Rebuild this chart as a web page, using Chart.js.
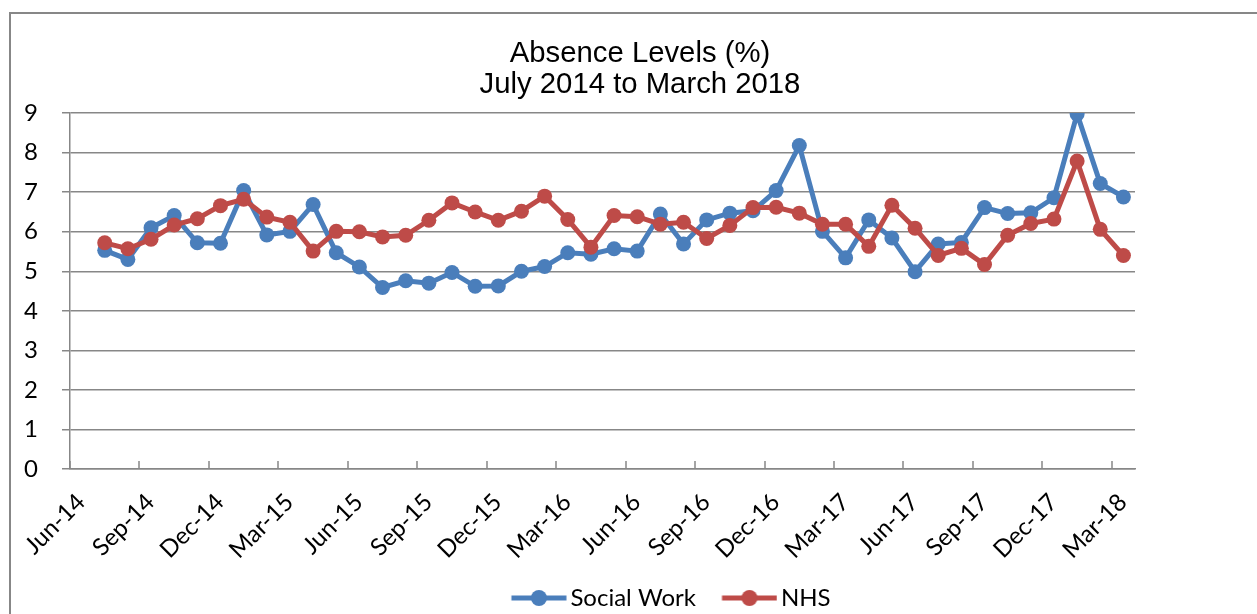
<!DOCTYPE html>
<html>
<head>
    <title>Absence Levels</title>
    <script src="https://cdn.jsdelivr.net/npm/chart.js"></script>
    <style>
        body {
            margin: 0;
            background: #fff;
            overflow: hidden;
        }
        .frame {
            position: absolute;
            left: 9px;
            top: 12px;
            border: 2px solid #878787;
        }
        canvas { display: block; }
    </style>
</head>
<body>
    <div class="frame">
        <canvas id="absenceChart" width="1258" height="640"></canvas>
    </div>

    <script>
        // monthly figures, Jul-14 to Mar-18
        const months = [
            'Jul-14', 'Aug-14', 'Sep-14', 'Oct-14', 'Nov-14', 'Dec-14',
            'Jan-15', 'Feb-15', 'Mar-15', 'Apr-15', 'May-15', 'Jun-15',
            'Jul-15', 'Aug-15', 'Sep-15', 'Oct-15', 'Nov-15', 'Dec-15',
            'Jan-16', 'Feb-16', 'Mar-16', 'Apr-16', 'May-16', 'Jun-16',
            'Jul-16', 'Aug-16', 'Sep-16', 'Oct-16', 'Nov-16', 'Dec-16',
            'Jan-17', 'Feb-17', 'Mar-17', 'Apr-17', 'May-17', 'Jun-17',
            'Jul-17', 'Aug-17', 'Sep-17', 'Oct-17', 'Nov-17', 'Dec-17',
            'Jan-18', 'Feb-18', 'Mar-18'
        ];
        const socialWork = [
            5.53, 5.30, 6.10, 6.41, 5.72, 5.71, 7.04, 5.92, 6.01, 6.69,
            5.47, 5.11, 4.59, 4.76, 4.70, 4.97, 4.62, 4.63, 5.00, 5.12,
            5.47, 5.43, 5.57, 5.51, 6.45, 5.69, 6.30, 6.47, 6.53, 7.04,
            8.18, 6.01, 5.34, 6.30, 5.84, 4.99, 5.69, 5.73, 6.61, 6.46,
            6.48, 6.86, 8.98, 7.22, 6.88
        ];
        const nhs = [
            5.72, 5.57, 5.81, 6.17, 6.33, 6.66, 6.82, 6.37, 6.24, 5.51,
            6.01, 6.00, 5.87, 5.91, 6.29, 6.73, 6.50, 6.29, 6.52, 6.90,
            6.31, 5.61, 6.41, 6.38, 6.19, 6.24, 5.83, 6.16, 6.61, 6.62,
            6.47, 6.19, 6.19, 5.63, 6.67, 6.09, 5.40, 5.58, 5.17, 5.91,
            6.21, 6.32, 7.79, 6.06, 5.40
        ];
        const tickLabels = [
            'Jun-14', 'Sep-14', 'Dec-14', 'Mar-15', 'Jun-15', 'Sep-15',
            'Dec-15', 'Mar-16', 'Jun-16', 'Sep-16', 'Dec-16', 'Mar-17',
            'Jun-17', 'Sep-17', 'Dec-17', 'Mar-18'
        ];

        const monthNames = ['Jan', 'Feb', 'Mar', 'Apr', 'May', 'Jun', 'Jul', 'Aug', 'Sep', 'Oct', 'Nov', 'Dec'];
        // months since the start of Jun-14, plotted mid-month like the Excel date axis
        function monthPos(label) {
            const [m, y] = label.split('-');
            return (Number(y) - 14) * 12 + monthNames.indexOf(m) - 5 + 0.5;
        }

        const blue = '#4a7ebb';
        const red = '#be4b48';
        const gridColor = '#878787';
        const tickFont = { family: 'Lato', size: 24 };

        // line + marker swatch; the transparent margins set the gaps around it
        function legendSwatch(color) {
            const c = document.createElement('canvas');
            c.width = 80;
            c.height = 18;
            const g = c.getContext('2d');
            g.strokeStyle = color;
            g.lineWidth = 5;
            g.beginPath();
            g.moveTo(24.5, 9);
            g.lineTo(79.5, 9);
            g.stroke();
            g.fillStyle = color;
            g.beginPath();
            g.arc(52, 9, 8, 0, Math.PI * 2);
            g.fill();
            return c;
        }

        // Excel style tick marks pointing up into the plot
        const xTickMarks = {
            id: 'xTickMarks',
            beforeDatasetsDraw(chart) {
                const x = chart.scales.x;
                const bottom = chart.chartArea.bottom;
                const ctx = chart.ctx;
                ctx.save();
                ctx.strokeStyle = gridColor;
                ctx.lineWidth = 1.5;
                x.ticks.forEach(t => {
                    const px = Math.round(x.getPixelForValue(t.value));
                    ctx.beginPath();
                    ctx.moveTo(px, bottom);
                    ctx.lineTo(px, bottom - 8);
                    ctx.stroke();
                });
                ctx.restore();
            }
        };

        // legend in the original sits a bit right of centre
        const legendShift = {
            id: 'legendShift',
            afterLayout(chart) {
                chart.legend.left += 23;
                chart.legend.right += 23;
            }
        };

        Chart.defaults.color = '#000';

        const ctx = document.getElementById('absenceChart').getContext('2d');
        new Chart(ctx, {
            type: 'line',
            data: {
                datasets: [
                    {
                        label: 'Social Work',
                        data: months.map((m, i) => ({ x: monthPos(m), y: socialWork[i] })),
                        borderColor: blue,
                        backgroundColor: blue,
                        pointBackgroundColor: blue,
                        borderWidth: 5,
                        pointRadius: 7.5,
                        pointBorderWidth: 0,
                        order: 1
                    },
                    {
                        label: 'NHS',
                        data: months.map((m, i) => ({ x: monthPos(m), y: nhs[i] })),
                        borderColor: red,
                        backgroundColor: red,
                        pointBackgroundColor: red,
                        borderWidth: 5,
                        pointRadius: 7.5,
                        pointBorderWidth: 0,
                        order: 0
                    }
                ]
            },
            options: {
                responsive: false,
                animation: false,
                devicePixelRatio: 1,
                layout: { padding: { top: 0, left: 0, right: 0, bottom: 34 } },
                scales: {
                    x: {
                        type: 'linear',
                        min: 0,
                        max: 46,
                        afterFit: s => {
                            s.height = 107;
                            s.paddingLeft = 0;
                            s.paddingRight = 0;
                        },
                        grid: { display: true, drawOnChartArea: false, drawTicks: false },
                        border: { color: gridColor, width: 1.5 },
                        ticks: {
                            stepSize: 3,
                            includeBounds: false,
                            autoSkip: false,
                            minRotation: 45,
                            maxRotation: 45,
                            padding: 19,
                            labelOffset: 11,
                            font: tickFont,
                            callback: v => tickLabels[v / 3]
                        }
                    },
                    y: {
                        min: 0,
                        max: 9,
                        afterFit: s => { s.width = 59; },
                        grid: { color: gridColor, lineWidth: 1.5, tickLength: 8 },
                        border: { color: gridColor, width: 1.5 },
                        ticks: { stepSize: 1, padding: 24, font: tickFont }
                    },
                    pad: {
                        position: 'right',
                        display: true,
                        afterFit: s => { s.width = 134; },
                        grid: { display: false },
                        border: { display: false },
                        ticks: { display: false }
                    }
                },
                plugins: {
                    title: {
                        display: true,
                        text: ['Absence Levels (%)', 'July 2014 to March 2018'],
                        font: { family: 'Liberation Sans', size: 29.3, weight: 'normal', lineHeight: 1.06 },
                        padding: { top: 24, bottom: 13 }
                    },
                    legend: {
                        position: 'bottom',
                        labels: {
                            usePointStyle: true,
                            pointStyleWidth: 63,
                            padding: 10,
                            font: tickFont,
                            generateLabels: chart => {
                                const items = Chart.defaults.plugins.legend.labels.generateLabels(chart);
                                items.sort((a, b) => a.datasetIndex - b.datasetIndex);
                                items.forEach(it => {
                                    it.pointStyle = legendSwatch(chart.data.datasets[it.datasetIndex].borderColor);
                                });
                                return items;
                            }
                        }
                    },
                    tooltip: { enabled: false }
                }
            },
            plugins: [xTickMarks, legendShift]
        });
    </script>
</body>
</html>
